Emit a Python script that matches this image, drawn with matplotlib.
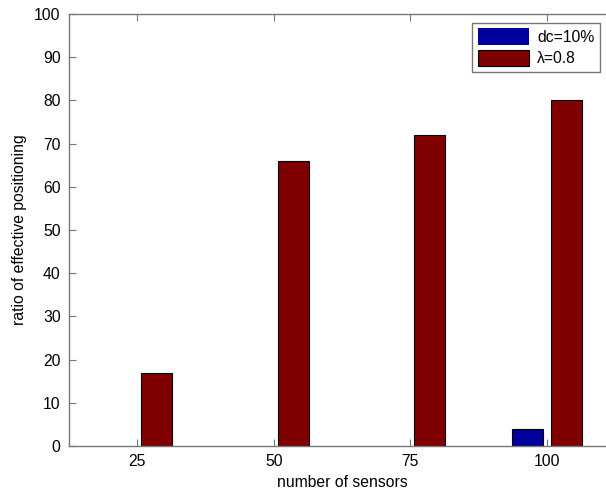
import matplotlib
matplotlib.use("Agg")
import matplotlib.pyplot as plt
import numpy as np

plt.rcParams["font.family"] = ["Liberation Sans", "DejaVu Sans"]

# data
sensors = [25, 50, 75, 100]
dc_10 = [0, 0, 0, 4]
lambda_08 = [17, 66, 72, 80]
series_labels = ["dc=10%", "λ=0.8"]

W, H = 606, 492
fig = plt.figure(figsize=(W / 100, H / 100), dpi=100)
ax = fig.add_axes([69 / W, 46 / H, (615 - 69) / W, (446 - 14) / H])

x = np.array(sensors, dtype=float)
bw = 5.7
off = 3.6
for xs, vals, col, lab in [(x - off, dc_10, "#00009c", series_labels[0]),
                           (x + off, lambda_08, "#800000", series_labels[1])]:
    bars = ax.bar(xs, vals, width=bw, color=col, edgecolor="black", linewidth=0.8, label=lab)
    # matlab doesn't show an outline for empty bars
    for b, v in zip(bars, vals):
        if v == 0:
            b.set_linewidth(0)

ax.set_xlim(12.5, 112.5)
ax.set_ylim(0, 100)
ax.set_xticks(sensors)
ax.set_yticks(np.arange(0, 101, 10))

for s in ax.spines.values():
    s.set_color("#777777")
    s.set_linewidth(1.0)
ax.tick_params(direction="in", length=5, width=0.8, color="#777777", labelsize=11.3,
               top=True, right=True, pad=6)

ax.set_xlabel("number of sensors", fontsize=11.3, labelpad=4)
ax.set_ylabel("ratio of effective positioning", fontsize=11.3, labelpad=5)

leg = ax.legend(loc="upper right", bbox_to_anchor=(600 / W, 1 - 23 / H),
                bbox_transform=fig.transFigure, borderaxespad=0, fontsize=11.3,
                handlelength=3.3, handleheight=1.25, labelspacing=0.3,
                handletextpad=0.5, borderpad=0.35, fancybox=False, framealpha=1)
leg.get_frame().set_edgecolor("#777777")
leg.get_frame().set_linewidth(1.0)

fig.savefig("out.png", dpi=100)
